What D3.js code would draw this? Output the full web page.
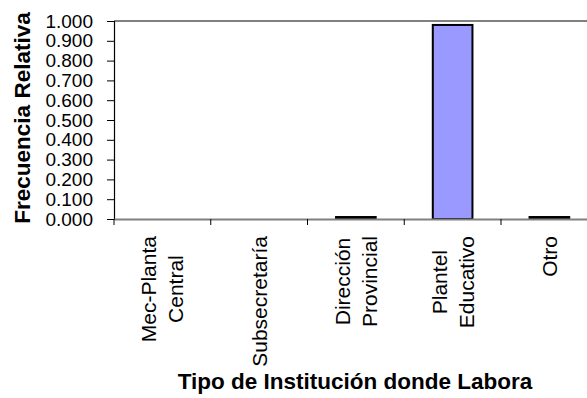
<!DOCTYPE html>
<html>
<head>
<meta charset="utf-8">
<script src="https://cdn.jsdelivr.net/npm/d3@7"></script>
<style>
  html, body { margin: 0; padding: 0; background: #fff; }
  svg { display: block; font-family: Arial, "Liberation Sans", sans-serif; }
</style>
</head>
<body>
<svg id="chart" width="587" height="398"></svg>
<script>
// Categories (each entry is a list of label lines) and relative frequencies
const categories = [
  ["Mec-Planta", "Central"],
  ["Subsecretaría"],
  ["Dirección", "Provincial"],
  ["Plantel", "Educativo"],
  ["Otro"]
];
const frequencies = [0.000, 0.000, 0.010, 0.980, 0.010];
const yTicks = [0, 0.1, 0.2, 0.3, 0.4, 0.5, 0.6, 0.7, 0.8, 0.9, 1.0];
const yTitle = "Frecuencia Relativa";
const xTitle = "Tipo de Institución donde Labora";

const svg = d3.select("#chart");
const plot = { left: 114, top: 21, bottom: 219, step: 96.75 };
const keys = categories.map(c => c.join(" "));

const x = d3.scaleBand()
  .domain(keys)
  .range([plot.left, plot.left + plot.step * keys.length])
  .padding(0);

const y = d3.scaleLinear()
  .domain([0, 1])
  .range([plot.bottom, plot.top]);

// Plot area top border
svg.append("line")
  .attr("x1", plot.left).attr("x2", 600)
  .attr("y1", plot.top).attr("y2", plot.top)
  .attr("stroke", "#808080").attr("stroke-width", 2);

// Bars
const barW = x.bandwidth() * 0.41;
svg.append("g").selectAll("rect")
  .data(frequencies)
  .join("rect")
  .attr("x", (d, i) => x(keys[i]) + (x.bandwidth() - barW) / 2)
  .attr("y", d => y(d))
  .attr("width", barW)
  .attr("height", d => y(0) - y(d))
  .attr("fill", "#9999ff")
  .attr("stroke", d => d > 0 ? "#000" : "none")
  .attr("stroke-width", 2);

// Y axis
const yAxis = svg.append("g")
  .attr("transform", `translate(${plot.left},0)`)
  .call(d3.axisLeft(y).tickValues(yTicks).tickFormat(d3.format(".3f")).tickSize(7).tickPadding(14));
yAxis.select(".domain").attr("stroke", "#000").attr("stroke-width", 1.2);
yAxis.selectAll(".tick line").attr("stroke", "#000");
yAxis.selectAll(".tick text")
  .attr("font-size", 19)
  .attr("font-family", "Arial, 'Liberation Sans', sans-serif")
  .attr("fill", "#000");

// X axis
const xAxis = svg.append("g")
  .attr("transform", `translate(0,${plot.bottom})`)
  .call(d3.axisBottom(x).tickValues([]).tickSizeOuter(0));
xAxis.select(".domain").attr("stroke", "#808080").attr("stroke-width", 2);
xAxis.selectAll(".xtick").data(keys).join("line")
  .attr("class", "xtick")
  .attr("x1", d => x(d)).attr("x2", d => x(d))
  .attr("y1", 0).attr("y2", 6)
  .attr("stroke", "#000");

// Category labels: rotated, centred lines, block top at a fixed y
const lineGap = 27;
const labelTop = 236;
const labels = svg.append("g");
categories.forEach((lines, i) => {
  const cx = x(keys[i]) + x.bandwidth() / 2;
  const nodes = lines.map(line => labels.append("text")
    .attr("text-anchor", "middle")
    .attr("font-size", 21)
    .attr("fill", "#000")
    .text(line));
  const maxLen = d3.max(nodes, n => n.node().getComputedTextLength());
  nodes.forEach((n, j) => {
    const bx = cx + 7.5 + (j - (lines.length - 1) / 2) * lineGap;
    n.attr("transform", `translate(${bx},${labelTop + maxLen / 2}) rotate(-90)`);
  });
});

// Axis titles
svg.append("text")
  .attr("transform", `translate(30,118) rotate(-90)`)
  .attr("text-anchor", "middle")
  .attr("font-size", 22.5)
  .attr("font-weight", "bold")
  .attr("fill", "#000")
  .text(yTitle);

svg.append("text")
  .attr("x", 355)
  .attr("y", 389)
  .attr("text-anchor", "middle")
  .attr("font-size", 22.5)
  .attr("font-weight", "bold")
  .attr("fill", "#000")
  .text(xTitle);
</script>
</body>
</html>
